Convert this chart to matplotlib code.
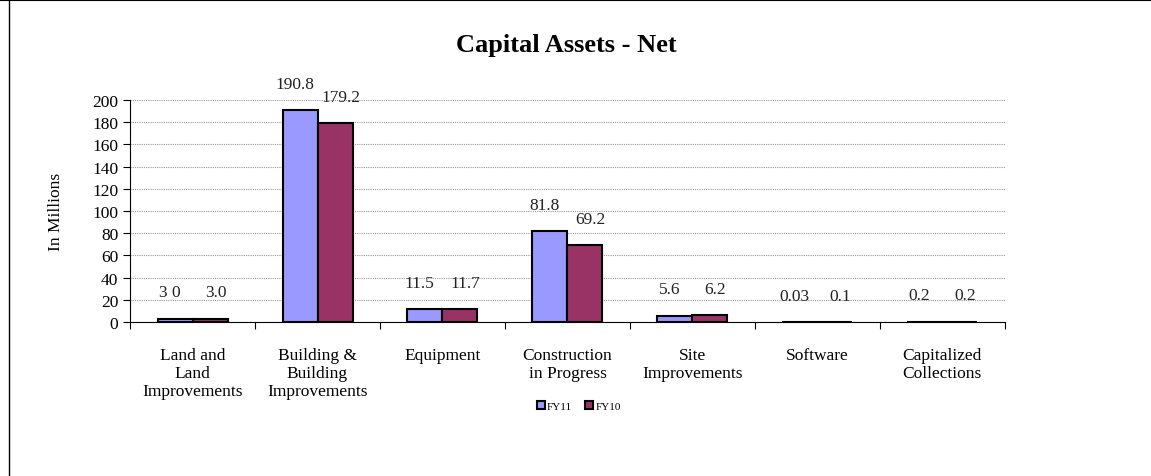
import matplotlib.pyplot as plt
import numpy as np
from matplotlib.lines import Line2D

categories = ['Land and\nLand\nImprovements', 'Building &\nBuilding\nImprovements',
              'Equipment', 'Construction\nin Progress', 'Site\nImprovements',
              'Software', 'Capitalized\nCollections']
fy11 = [3.0, 190.8, 11.5, 81.8, 5.6, 0.03, 0.2]
fy10 = [3.0, 179.2, 11.7, 69.2, 6.2, 0.1, 0.2]
fy11_labels = ['3 0', '190.8', '11.5', '81.8', '5.6', '0.03', '0.2']
fy10_labels = ['3.0', '179.2', '11.7', '69.2', '6.2', '0.1', '0.2']

plt.rcParams['font.family'] = ['Liberation Serif', 'DejaVu Serif']

fig = plt.figure(figsize=(11.51, 4.77), dpi=100)
ax = fig.add_axes([0.113, 0.323, 0.760, 0.465])

x = np.arange(len(categories))
w = 0.28
b1 = ax.bar(x - w / 2, fy11, w, color='#9999FF', edgecolor='black',
            linewidth=1.5, label='FY11', zorder=3)
b2 = ax.bar(x + w / 2, fy10, w, color='#993366', edgecolor='black',
            linewidth=1.5, label='FY10', zorder=3)

for rect, txt in zip(b1, fy11_labels):
    ax.annotate(txt, (rect.get_x() + rect.get_width() / 2, rect.get_height()),
                xytext=(-4, 16), textcoords='offset points', ha='center',
                fontsize=12.5, color='#222222')
for rect, txt in zip(b2, fy10_labels):
    ax.annotate(txt, (rect.get_x() + rect.get_width() / 2, rect.get_height()),
                xytext=(4, 16), textcoords='offset points', ha='center',
                fontsize=12.5, color='#222222')

ax.set_xlim(-0.5, len(categories) - 0.5)
ax.set_ylim(0, 200)
ax.set_yticks(range(0, 201, 20))
ax.yaxis.grid(True, linestyle=(0, (1, 1)), color='#999999', linewidth=0.8, zorder=0)
ax.set_xticks(np.arange(len(categories) + 1) - 0.5)
ax.set_xticklabels([])
ax.set_xticks(x, minor=True)
ax.set_xticklabels(categories, minor=True, fontsize=12.5, linespacing=1.15)
ax.tick_params(axis='x', which='minor', length=0, pad=18)
ax.tick_params(axis='x', which='major', length=5, direction='out')
ax.tick_params(axis='y', length=5, direction='out', labelsize=12.5)
for s in ['top', 'right']:
    ax.spines[s].set_visible(False)
ax.set_ylabel('In Millions', fontsize=12.5)
ax.yaxis.set_label_coords(-0.075, 0.5)

fig.text(0.492, 0.905, 'Capital Assets - Net', ha='center', va='center',
         fontsize=19, fontweight='bold')

fig.legend(handles=[b1, b2], labels=['FY11', 'FY10'], loc='center',
           bbox_to_anchor=(0.503, 0.147), ncol=2, frameon=False,
           fontsize=8, handlelength=0.7, handleheight=0.7,
           handletextpad=0.2, columnspacing=1.2)

fig.add_artist(Line2D([0, 1], [0.997, 0.997], color='black', linewidth=1.5))
fig.add_artist(Line2D([0.0075, 0.0075], [0, 0.997], color='black', linewidth=1))

fig.savefig('out.png', dpi=100)
